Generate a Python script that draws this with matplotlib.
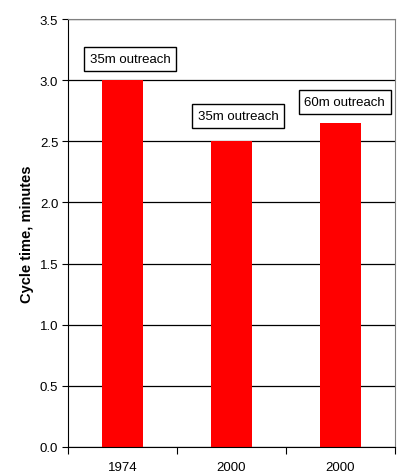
import numpy as np
import matplotlib.pyplot as plt

plt.rcParams['font.family'] = ['Liberation Sans', 'DejaVu Sans']

years = ['1974', '2000', '2000']
cycle_time = [3.0, 2.5, 2.65]
notes = ['35m outreach', '35m outreach', '60m outreach']
note_y = [3.17, 2.71, 2.82]
note_dx = [0.07, 0.06, 0.04]

fig = plt.figure(figsize=(3.97, 4.77), dpi=100)
ax = fig.add_axes([68 / 397, 1 - 448 / 477, 327 / 397, 428 / 477])

x = np.arange(len(years))
ax.bar(x, cycle_time, width=0.367, color='#ff0000', zorder=2)

for xi, txt, ty, dx in zip(x, notes, note_y, note_dx):
    ax.text(xi + dx, ty, txt, ha='center', va='center', fontsize=9.5,
            bbox=dict(boxstyle='square,pad=0.45', fc='white', ec='black', lw=1),
            zorder=3)

ax.set_xlim(-0.5, 2.5)
ax.set_ylim(0, 3.5)
ax.set_yticks(np.arange(0, 3.51, 0.5))
ax.set_yticklabels([f'{v:.1f}' for v in np.arange(0, 3.51, 0.5)], fontsize=9.5)
ax.yaxis.grid(True, color='black', lw=0.9)
ax.set_axisbelow(True)

# ticks sit between the categories, labels at the centres
ax.set_xticks([-0.5, 0.5, 1.5, 2.5])
ax.set_xticklabels([])
ax.set_xticks(x, minor=True)
ax.set_xticklabels(years, minor=True, fontsize=9.5)
ax.tick_params(axis='x', which='minor', length=0, pad=10)
ax.tick_params(axis='x', which='major', length=5, direction='out')
ax.tick_params(axis='y', length=4, direction='out', pad=3)

ax.set_ylabel('Cycle time, minutes', fontsize=10.5, fontweight='bold', labelpad=4)

for side in ['top', 'right']:
    ax.spines[side].set_color('#808080')
for side in ['left', 'bottom']:
    ax.spines[side].set_color('black')

fig.savefig('out.png', dpi=100)
